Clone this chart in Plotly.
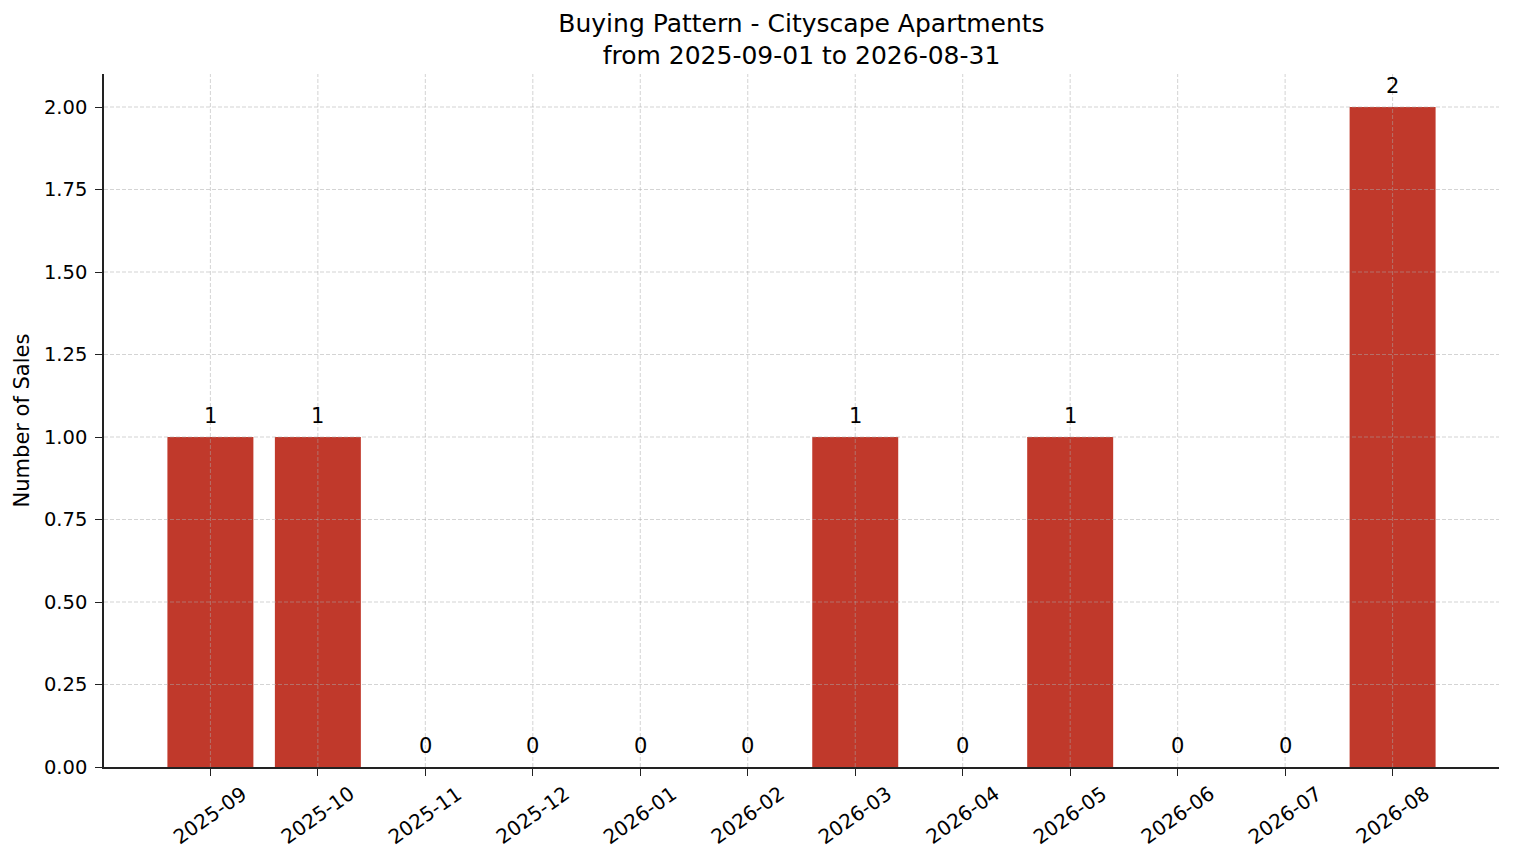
import plotly.graph_objects as go

months = ["2025-09", "2025-10", "2025-11", "2025-12", "2026-01", "2026-02",
          "2026-03", "2026-04", "2026-05", "2026-06", "2026-07", "2026-08"]
sales = [1, 1, 0, 0, 0, 0, 1, 0, 1, 0, 0, 2]
yticks = [0, 0.25, 0.5, 0.75, 1.0, 1.25, 1.5, 1.75, 2.0]

BAR = "#c0392b"
GRID = "rgba(170,170,170,0.5)"
AX = "#222222"

fig = go.Figure()
fig.add_trace(go.Bar(x=months, y=sales, width=0.8, marker=dict(color=BAR, line_width=0)))

# value labels above the bars
for m, v in zip(months, sales):
    fig.add_annotation(x=m, y=v, text=str(v), showarrow=False, yanchor="bottom", yshift=7,
                       font=dict(size=21, color="black"))

# grid drawn over the bars, like the original
for m in months:
    fig.add_shape(type="line", xref="x", yref="paper", x0=m, x1=m, y0=0, y1=1, layer="above",
                  line=dict(color=GRID, width=1, dash="4px,2px"))
for t in yticks[1:]:
    fig.add_shape(type="line", xref="paper", yref="y", x0=0, x1=1, y0=t, y1=t, layer="above",
                  line=dict(color=GRID, width=1, dash="4px,2px"))

# rotated tick labels centred under the ticks
for m in months:
    fig.add_annotation(x=m, xref="x", y=0, yref="paper", yshift=-48, text=m, showarrow=False,
                       textangle=-35, xanchor="center", yanchor="middle",
                       font=dict(size=20, color="black"))

fig.update_layout(
    width=1506, height=855, showlegend=False,
    plot_bgcolor="white", paper_bgcolor="white",
    margin=dict(l=96, r=15, t=66, b=96),
    font=dict(family="DejaVu Sans", size=19.5, color="black"),
    title=dict(text="Buying Pattern - Cityscape Apartments<br>from 2025-09-01 to 2026-08-31",
               xref="paper", x=0.5, xanchor="center", yref="container", y=0.972, yanchor="top",
               font=dict(size=25)),
)
fig.update_xaxes(type="category", range=[-0.99, 11.99], showticklabels=False, showline=True,
                 linecolor=AX, linewidth=1.6, automargin=False, showgrid=False,
                 ticks="outside", ticklen=7, tickwidth=1.4, tickcolor=AX)
fig.update_yaxes(range=[0, 2.1], tickvals=yticks, tickformat=".2f", showline=True, linecolor=AX,
                 linewidth=1.6, ticks="outside", ticklen=7, tickwidth=1.4, tickcolor=AX,
                 showgrid=False, zeroline=False, automargin=False, ticklabelstandoff=4,
                 title=dict(text="Number of Sales", standoff=9, font=dict(size=21)))

fig.write_html("out.html")
